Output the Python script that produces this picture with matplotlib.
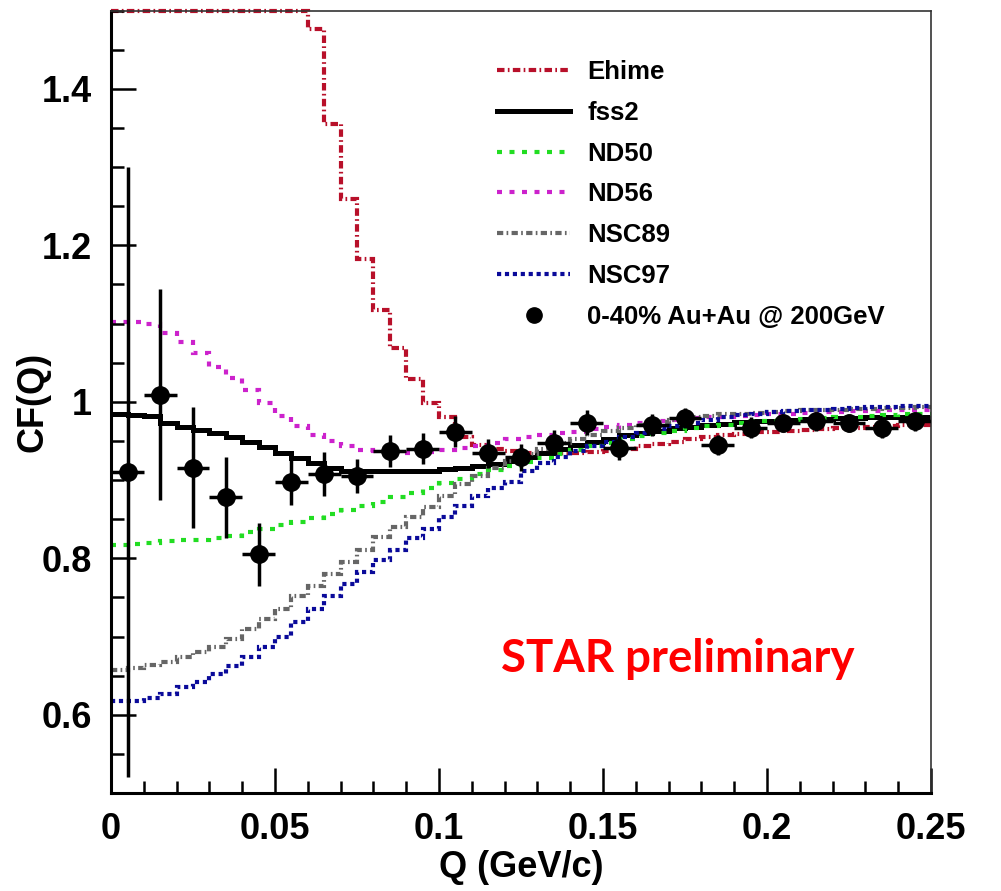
import numpy as np
import matplotlib
matplotlib.use("Agg")
import matplotlib.pyplot as plt
from matplotlib.lines import Line2D
from matplotlib.ticker import FixedLocator, MultipleLocator

# histogram bins: 50 bins of 0.005 GeV/c
edges = np.linspace(0, 0.25, 51)

ehime = [1.5, 1.5, 1.5, 1.5, 1.5, 1.5, 1.5, 1.5, 1.5, 1.5,
         1.5, 1.5, 1.476, 1.355, 1.259, 1.183, 1.118, 1.069, 1.029, 0.999,
         0.980, 0.955, 0.945, 0.940, 0.937, 0.935, 0.934, 0.934, 0.935, 0.936,
         0.937, 0.940, 0.943, 0.946, 0.949, 0.952, 0.955, 0.957, 0.959, 0.961,
         0.962, 0.963, 0.964, 0.965, 0.966, 0.967, 0.968, 0.969, 0.970, 0.971]
fss2 = [0.985, 0.983, 0.982, 0.973, 0.968, 0.964, 0.960, 0.955, 0.949, 0.942,
        0.935, 0.928, 0.922, 0.916, 0.912, 0.912, 0.912, 0.912, 0.912, 0.912,
        0.914, 0.916, 0.918, 0.921, 0.925, 0.930, 0.935, 0.940, 0.945, 0.949,
        0.953, 0.957, 0.960, 0.963, 0.966, 0.968, 0.970, 0.972, 0.974, 0.975,
        0.976, 0.977, 0.978, 0.978, 0.979, 0.979, 0.980, 0.980, 0.980, 0.980]
nd50 = [0.817, 0.818, 0.820, 0.822, 0.823, 0.824, 0.826, 0.829, 0.833, 0.838,
        0.842, 0.846, 0.851, 0.856, 0.862, 0.867, 0.872, 0.878, 0.884, 0.890,
        0.896, 0.902, 0.908, 0.913, 0.918, 0.923, 0.928, 0.933, 0.938, 0.943,
        0.948, 0.952, 0.956, 0.960, 0.963, 0.966, 0.969, 0.971, 0.973, 0.975,
        0.976, 0.977, 0.978, 0.979, 0.980, 0.981, 0.982, 0.983, 0.984, 0.985]
nd56 = [1.102, 1.102, 1.100, 1.088, 1.076, 1.062, 1.045, 1.030, 1.015, 0.998,
        0.982, 0.969, 0.958, 0.950, 0.944, 0.939, 0.937, 0.935, 0.935, 0.936,
        0.938, 0.941, 0.944, 0.947, 0.952, 0.955, 0.958, 0.960, 0.962, 0.965,
        0.968, 0.970, 0.973, 0.975, 0.977, 0.979, 0.980, 0.981, 0.982, 0.983,
        0.984, 0.985, 0.986, 0.987, 0.987, 0.988, 0.988, 0.989, 0.989, 0.990]
nsc89 = [0.657, 0.660, 0.663, 0.667, 0.674, 0.680, 0.686, 0.697, 0.710, 0.722,
         0.735, 0.752, 0.765, 0.780, 0.795, 0.810, 0.827, 0.840, 0.853, 0.866,
         0.880, 0.895, 0.905, 0.915, 0.925, 0.933, 0.940, 0.947, 0.953, 0.958,
         0.963, 0.967, 0.971, 0.974, 0.977, 0.980, 0.982, 0.984, 0.985, 0.986,
         0.987, 0.988, 0.989, 0.990, 0.990, 0.991, 0.991, 0.992, 0.992, 0.993]
nsc97 = [0.617, 0.618, 0.621, 0.627, 0.635, 0.642, 0.652, 0.662, 0.674, 0.686,
         0.700, 0.718, 0.735, 0.752, 0.767, 0.782, 0.798, 0.811, 0.826, 0.838,
         0.853, 0.867, 0.880, 0.890, 0.898, 0.912, 0.922, 0.930, 0.937, 0.943,
         0.949, 0.955, 0.960, 0.965, 0.969, 0.973, 0.977, 0.980, 0.983, 0.985,
         0.987, 0.988, 0.989, 0.990, 0.991, 0.992, 0.993, 0.994, 0.995, 0.995]

# STAR data, 0-40% Au+Au @ 200 GeV
q_data = [0.005, 0.015, 0.025, 0.035, 0.045, 0.055, 0.065, 0.075, 0.085, 0.095,
          0.105, 0.115, 0.125, 0.135, 0.145, 0.155, 0.165, 0.175, 0.185, 0.195,
          0.205, 0.215, 0.225, 0.235, 0.245]
cf_data = [0.910, 1.009, 0.916, 0.878, 0.805, 0.898, 0.908, 0.905, 0.937, 0.940,
           0.962, 0.934, 0.929, 0.948, 0.973, 0.941, 0.970, 0.979, 0.945, 0.967,
           0.973, 0.975, 0.973, 0.966, 0.975]
cf_err = [0.39, 0.135, 0.077, 0.052, 0.040, 0.030, 0.028, 0.022, 0.020, 0.020,
          0.020, 0.018, 0.017, 0.016, 0.016, 0.015, 0.014, 0.013, 0.013, 0.013,
          0.012, 0.012, 0.012, 0.012, 0.012]
q_halfbin = 0.005

xticks = [0, 0.05, 0.1, 0.15, 0.2, 0.25]
xticklabels = ["0", "0.05", "0.1", "0.15", "0.2", "0.25"]
yticks = [0.6, 0.8, 1.0, 1.2, 1.4]
yticklabels = ["0.6", "0.8", "1", "1.2", "1.4"]

font = ["Liberation Sans", "DejaVu Sans"]

fig = plt.figure(figsize=(10.01, 8.91), dpi=100)
ax = fig.add_axes([0.111, 0.110, 0.819, 0.878])

lw = 3.0
h_ehime = ax.stairs(ehime, edges, color="#b8102a", lw=lw, linestyle=(0, (1.8, 0.8, 0.4, 0.8)),
                    baseline=None, clip_on=False)
h_fss2 = ax.stairs(fss2, edges, color="black", lw=3.6, baseline=None)
h_nd50 = ax.stairs(nd50, edges, color="#22dd22", lw=lw, linestyle=(0, (1.2, 1.8)), baseline=None)
h_nd56 = ax.stairs(nd56, edges, color="#cc22cc", lw=lw, linestyle=(0, (1.2, 1.8)), baseline=None)
h_nsc89 = ax.stairs(nsc89, edges, color="#666666", lw=lw, linestyle=(0, (1.5, 0.8, 0.4, 0.8)),
                    baseline=None)
h_nsc97 = ax.stairs(nsc97, edges, color="#0a0a9a", lw=lw, linestyle=(0, (1.0, 0.9)), baseline=None)

ax.errorbar(q_data, cf_data, yerr=cf_err, xerr=q_halfbin, fmt="o", color="black",
            ms=12.5, elinewidth=2.5, capsize=0, zorder=5)

ax.set_xlim(0, 0.25)
ax.set_ylim(0.5, 1.5)

ax.xaxis.set_major_locator(FixedLocator(xticks))
ax.set_xticklabels(xticklabels)
ax.xaxis.set_minor_locator(MultipleLocator(0.01))
ax.yaxis.set_major_locator(FixedLocator(yticks))
ax.set_yticklabels(yticklabels)
ax.yaxis.set_minor_locator(MultipleLocator(0.05))

ax.tick_params(which="both", direction="in", top=False, right=False, width=1.8)
ax.tick_params(which="major", length=18, pad=14)
ax.tick_params(which="minor", length=9)
for lab in ax.get_xticklabels() + ax.get_yticklabels():
    lab.set_family(font)
    lab.set_fontweight("bold")
    lab.set_fontsize(26)

for s in ["left", "bottom"]:
    ax.spines[s].set_linewidth(2.2)
for s in ["top", "right"]:
    ax.spines[s].set_linewidth(1.2)
    ax.spines[s].set_color("#333333")

ax.set_xlabel("Q (GeV/c)", family=font, fontweight="bold", fontsize=26, labelpad=2)
ax.set_ylabel("CF(Q)", family=font, fontweight="bold", fontsize=26)
ax.yaxis.set_label_coords(-0.074, 0.5)

ax.text(0.475, 0.155, "STAR preliminary", transform=ax.transAxes, color="#ff0000",
        family=["Lato", "DejaVu Sans"], fontweight="bold", fontsize=32.8)

h_data = Line2D([], [], marker="o", color="black", ls="none", ms=11)
handles = [h_ehime, h_fss2, h_nd50, h_nd56, h_nsc89, h_nsc97, h_data]
labels = ["Ehime", "fss2", "ND50", "ND56", "NSC89", "NSC97", "0-40% Au+Au @ 200GeV"]
leg = ax.legend(handles, labels, loc="upper left", bbox_to_anchor=(0.455, 0.953),
                frameon=False, handlelength=2.85, handletextpad=0.66, labelspacing=0.65,
                borderpad=0, prop={"family": font, "weight": "bold", "size": 18.5})

fig.savefig("out.png", dpi=100)
